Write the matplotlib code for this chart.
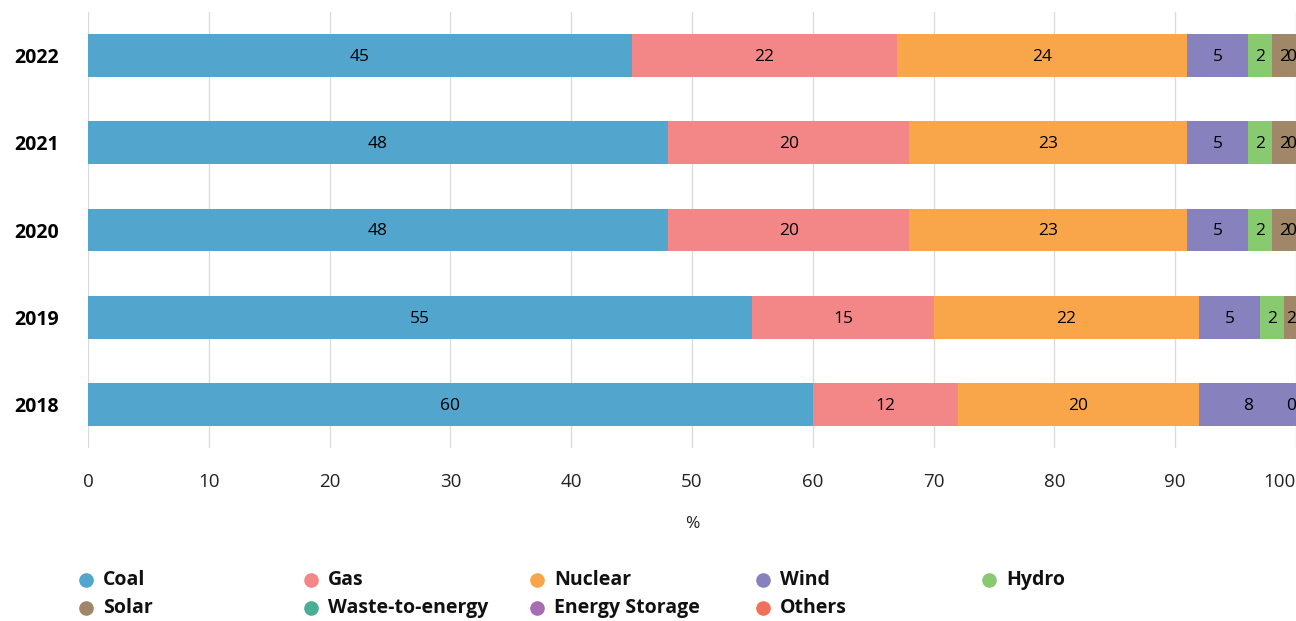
import numpy as np
import matplotlib.pyplot as plt

years = ["2018", "2019", "2020", "2021", "2022"]
sources = ["Coal", "Gas", "Nuclear", "Wind", "Hydro", "Solar",
           "Waste-to-energy", "Energy Storage", "Others"]
colors = ["#52a5cd", "#f38686", "#f9a64a", "#8781bd", "#88ca6f", "#a08768",
          "#4aad96", "#a66db3", "#f2705a"]

# share of each source per year (%), rows follow `years`
coal = [60, 55, 48, 48, 45]
gas = [12, 15, 20, 20, 22]
nuclear = [20, 22, 23, 23, 24]
wind = [8, 5, 5, 5, 5]
hydro = [0, 2, 2, 2, 2]
solar = [0, 2, 2, 2, 2]
waste = [0, 0, 0, 0, 0]
storage = [0, 0, 0, 0, 0]
others = [0, 0, 0, 0, 0]

series = [coal, gas, nuclear, wind, hydro, solar, waste, storage, others]
xticks = list(range(0, 101, 10))

plt.rcParams['font.family'] = ['Open Sans', 'DejaVu Sans']

fig = plt.figure(figsize=(12.96, 6.21), dpi=100)
ax = fig.add_axes([88 / 1296, 1 - 448 / 621, 1 - 88 / 1296, 436 / 621])

y = np.arange(len(years))
left = np.zeros(len(years))
placed = [[] for _ in years]
for name, vals, col in zip(sources, series, colors):
    vals = np.array(vals, dtype=float)
    ax.barh(y, vals, left=left, height=0.49, color=col, zorder=2)
    for i, v in enumerate(vals):
        cx = min(left[i] + v / 2, 99.6)
        # skip labels that would sit on top of one already drawn
        if any(abs(cx - p) < 0.5 for p in placed[i]):
            continue
        placed[i].append(cx)
        ax.text(cx, y[i] - 0.015, f"{v:.0f}", ha="center", va="center",
                fontsize=12.5, color="black", zorder=3)
    left += vals

ax.set_xlim(0, 100)
ax.set_ylim(-0.5, len(years) - 0.5)
# last tick label is drawn separately, right-aligned so it stays in the figure
ax.set_xticks(xticks, [str(t) for t in xticks[:-1]] + [""])
ax.annotate(str(xticks[-1]), xy=(xticks[-1], 0), xycoords=ax.get_xaxis_transform(),
            xytext=(0, -18), textcoords="offset points", ha="right", va="top",
            fontsize=13.5, color="#222222")
ax.set_yticks(y)
ax.set_yticklabels(years, fontweight="bold", fontsize=14)
ax.tick_params(axis="x", length=0, pad=18, labelsize=13.5, labelcolor="#222222")
ax.tick_params(axis="y", length=0, pad=21)
ax.set_xlabel("%", fontsize=12.5, labelpad=18, color="#222222")
ax.grid(axis="x", color="#dcdcdc", linewidth=1, zorder=0)
for s in ax.spines.values():
    s.set_visible(False)

# legend laid out in rows of five
col_x = [79, 304, 530, 756, 982]
row_y = [580, 608]
for k, (name, col) in enumerate(zip(sources, colors)):
    cx = col_x[k % 5] / 1296
    cy = 1 - row_y[k // 5] / 621
    fig.lines.append(plt.Line2D([cx + 7 / 1296], [cy], marker="o", markersize=9.5,
                                color=col, linestyle="", transform=fig.transFigure))
    fig.text(cx + 24 / 1296, cy, name, fontsize=14, fontweight="bold",
             va="center", ha="left", color="#111111")

fig.savefig("out.png", dpi=100)
